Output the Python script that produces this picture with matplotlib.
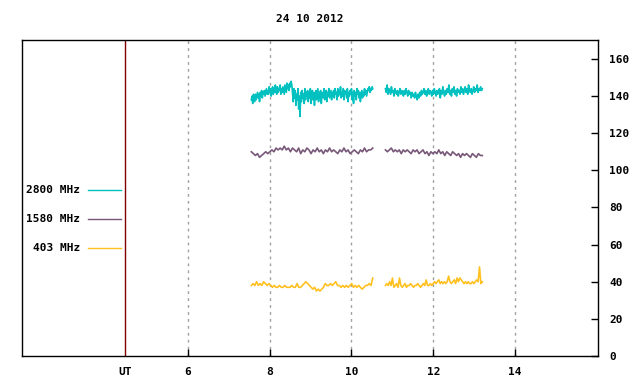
import numpy as np
import matplotlib
matplotlib.use("Agg")
import matplotlib.pyplot as plt

title = "24 10 2012"
xticks = [6, 8, 10, 12, 14]
yticks = [0, 20, 40, 60, 80, 100, 120, 140, 160]
ut_pos = 4.46
seg_bounds = [(7.55, 10.52), (10.83, 13.2)]

c2800_a = [138,140,136,141,139,137,141,138,140,142,139,141,137,142,140,143,139,142,141,143,140,142,144,141,
           143,141,145,142,144,140,143,145,141,144,142,146,143,141,145,142,144,143,146,141,144,142,145,143,141,146,144,142,147,144,146,143,147,145,148,146,
           142,137,144,139,143,135,141,138,144,133,140,129,142,137,143,139,141,136,144,138,142,
           140,143,137,142,139,144,136,141,143,138,142,135,140,143,138,141,144,137,142,139,143,136,141,142,139,144,138,141,143,137,142,140,144,139,141,143,138,142,140,
           143,139,144,141,142,138,144,140,143,141,145,139,142,140,144,138,143,141,142,139,144,137,142,140,143,141,144,138,142,136,
           143,140,142,138,144,141,143,139,142,137,141,143,139,142,140,144,141,143,140,142,144,143,145,142,144,143,145,144]
c2800_b = [144,142,146,141,144,143,141,145,142,143,140,144,142,141,143,140,142,144,141,143,142,140,143,141,144,142,140,143,141,142,
           139,142,140,141,139,142,140,138,141,139,142,140,143,141,142,144,141,143,140,142,144,141,143,142,140,143,141,144,142,140,
           143,141,142,144,139,143,141,145,142,140,143,141,144,142,146,141,143,140,144,142,145,141,143,140,144,142,143,141,145,142,
           144,141,143,145,142,144,141,146,143,142,144,141,143,145,142,144,143,146,142,144,143,145,143,144]
c1580_a = [110,109,108,109,107,108,109,110,109,110,111,110,112,111,112,111,113,111,112,110,112,111,110,112,109,111,110,112,111,109,
           111,110,112,110,111,109,111,110,112,110,111,110,109,111,110,112,110,111,109,110,111,110,109,111,110,112,110,111,111,112]
c1580_b = [111,110,111,112,110,111,110,111,109,111,110,111,110,109,111,110,111,109,110,111,109,110,108,110,109,110,109,111,109,110,
           108,110,109,108,110,109,108,109,107,109,108,109,108,107,109,108,107,109,108,108]
c403_a = [38,39,38,40,38,39,38,40,39,38,39,38,37,38,37,37,38,37,37,38,37,37,37,38,37,37,39,37,37,38,39,40,39,38,37,36,37,35,36,35,
          36,37,39,38,38,39,38,39,40,38,38,37,38,37,38,37,38,39,37,38,37,38,37,36,37,38,38,39,38,42]
c403_b = [38,39,38,40,38,42,37,38,39,37,42,38,37,38,39,37,38,38,39,38,37,38,38,39,38,37,38,39,38,41,38,38,39,38,39,40,39,40,41,39,
          40,39,40,39,40,43,40,39,40,41,39,42,40,42,41,40,39,40,39,40,39,39,40,39,40,41,40,48,39,40]

series = [
    ("2800 MHz", "#00C0C0", [c2800_a, c2800_b]),
    ("1580 MHz", "#785878", [c1580_a, c1580_b]),
    ("403 MHz", "#FFC020", [c403_a, c403_b]),
]
legend_y = [89.4, 73.8, 58.2]

font = dict(family="DejaVu Sans Mono", weight="bold", size=8)

fig = plt.figure(figsize=(6.4, 3.84), dpi=100)
ax = fig.add_axes([22/640, 28/384, 576/640, 316/384])
ax.set_xlim(1.94, 16.03)
ax.set_ylim(0, 170.2)

for x in xticks:
    ax.axvline(x, color="#A0A0A0", lw=1, ls=(0, (2, 3)), zorder=1)
ax.axvline(ut_pos, color="#800000", lw=1, zorder=2)

for name, col, segs in series:
    for (t0, t1), vals in zip(seg_bounds, segs):
        t = np.linspace(t0, t1, len(vals))
        ax.plot(t, vals, color=col, lw=1.2, zorder=3)

for (name, col, _), ly in zip(series, legend_y):
    ax.plot([3.55, 4.36], [ly, ly], color=col, lw=1)
    ax.text(3.36, ly, name, ha="right", va="center", **font)

ax.set_xticks([ut_pos] + xticks)
ax.set_xticklabels(["UT"] + [str(x) for x in xticks], **font)
ax.tick_params(axis="x", direction="in", length=5, width=1, pad=8, top=False)
ax.xaxis.get_major_ticks()[0].tick1line.set_visible(False)
ax.yaxis.tick_right()
ax.set_yticks(yticks)
ax.set_yticklabels([str(y) for y in yticks], **font)
ax.tick_params(axis="y", direction="in", length=5, width=1, pad=8, left=False)
for s in ax.spines.values():
    s.set_linewidth(1)
    s.set_color("black")

fig.text(310/640, 1 - 19/384, title, ha="center", va="center", **font)
fig.savefig("out.png", dpi=100)
